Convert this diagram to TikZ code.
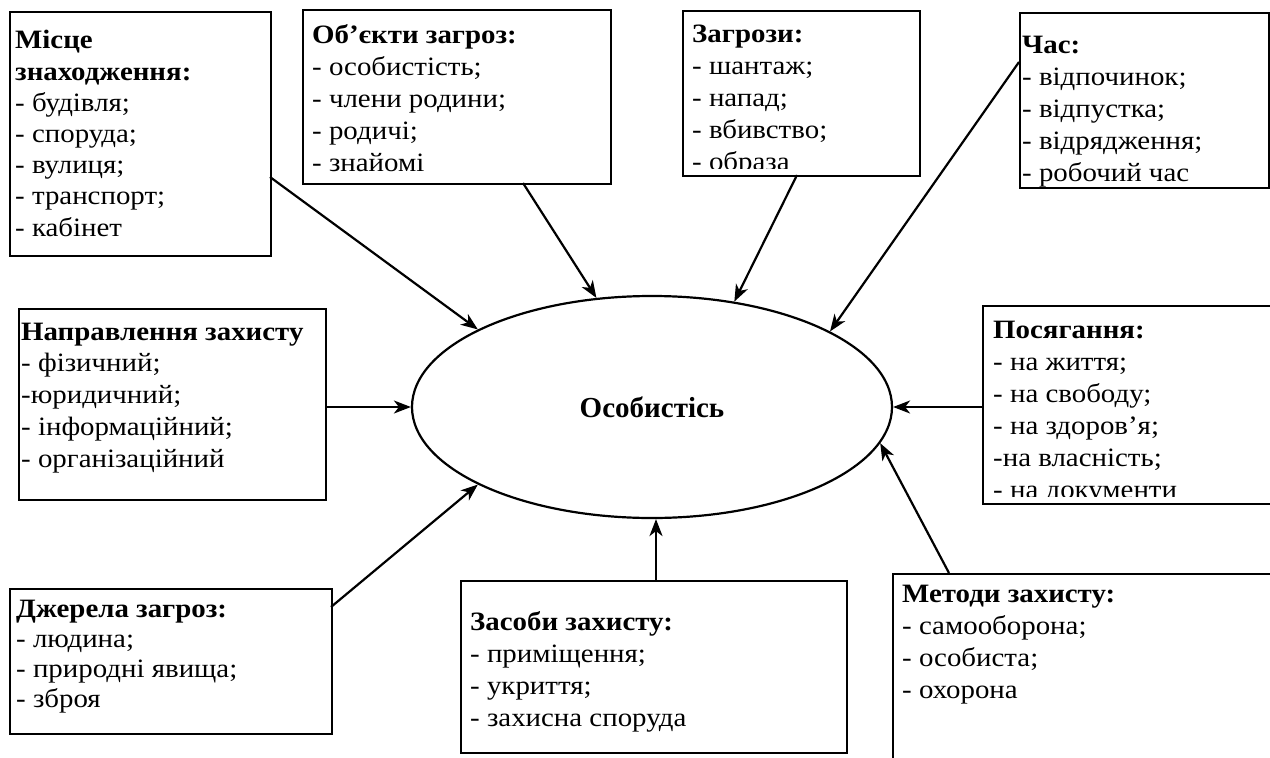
\documentclass[tikz,border=0pt]{standalone}
\usepackage{fontspec}
\setmainfont{Liberation Serif}
\newfontfamily\wideserif[FakeStretch=1.09]{Liberation Serif}
\usetikzlibrary{shapes.geometric,arrows.meta}
\begin{document}
\begin{tikzpicture}[x=1pt,y=-1pt,
  box/.style={draw, line width=2.4pt, inner sep=0, anchor=north west},
  txt/.style={anchor=base west, align=left, inner sep=0},
  arr/.style={line width=2.2pt, -{Stealth[length=17pt,width=13pt,inset=5pt]}}]
\useasboundingbox (0,0) rectangle (1270,758);
\clip (0,0) rectangle (1270,758);
% central ellipse
\node[draw, ellipse, line width=2.2pt, minimum width=480pt, minimum height=222pt, inner sep=0,
  font=\fontsize{29}{32}\selectfont\bfseries] (E) at (652,407) {Особистісь};
% boxes
\node[box, minimum width=261pt, minimum height=244pt] (b1) at (9,11) {};
\node[box, minimum width=308pt, minimum height=174pt] (b2) at (302,9) {};
\node[box, minimum width=237pt, minimum height=165pt] (b3) at (682,10) {};
\node[box, minimum width=249pt, minimum height=175pt] (b4) at (1019,12) {};
\node[box, minimum width=320pt, minimum height=198pt] (b5) at (982,305) {};
\node[box, minimum width=400pt, minimum height=220pt] (b6) at (892,573) {};
\node[box, minimum width=386pt, minimum height=172pt] (b7) at (460,580) {};
\node[box, minimum width=307pt, minimum height=191pt] (b8) at (18,308) {};
\node[box, minimum width=322pt, minimum height=145pt] (b9) at (9,588) {};
% texts (anchor = baseline of the last line)
\node[txt, font=\wideserif\fontsize{26.5}{31.2}\selectfont] (t1) at (15,236)
  {\textbf{Місце}\\\textbf{знаходження:}\\- будівля;\\- споруда;\\- вулиця;\\- транспорт;\\- кабінет};
\node[txt, font=\wideserif\fontsize{26.5}{32}\selectfont] (t2) at (312,171)
  {\textbf{Об’єкти загроз:}\\- особистість;\\- члени родини;\\- родичі;\\- знайомі};
\begin{scope}
  \clip (682,10) rectangle (919,168);
  \node[txt, font=\wideserif\fontsize{26.5}{32}\selectfont] (t3) at (692,170)
    {\textbf{Загрози:}\\- шантаж;\\- напад;\\- вбивство;\\- образа};
\end{scope}
\node[txt, font=\wideserif\fontsize{26.5}{32}\selectfont] (t4) at (1022,181)
  {\textbf{Час:}\\- відпочинок;\\- відпустка;\\- відрядження;\\- робочий час};
\begin{scope}
  \clip (982,305) rectangle (1270,496);
  \node[txt, font=\wideserif\fontsize{26.5}{32}\selectfont] (t5) at (993,498)
    {\textbf{Посягання:}\\- на життя;\\ - на свободу;\\- на здоров’я;\\-на власність;\\- на документи};
\end{scope}
\node[txt, font=\wideserif\fontsize{26.5}{32}\selectfont] (t6) at (902,698)
  {\textbf{Методи захисту:}\\- самооборона;\\- особиста;\\- охорона};
\node[txt, font=\wideserif\fontsize{26.5}{32}\selectfont] (t7) at (470,726)
  {\textbf{Засоби захисту:}\\- приміщення;\\- укриття;\\- захисна споруда};
\node[txt, font=\wideserif\fontsize{26.5}{31.7}\selectfont] (t8) at (21,467)
  {\textbf{Направлення захисту}\\- фізичний;\\-юридичний;\\- інформаційний;\\- організаційний};
\node[txt, font=\wideserif\fontsize{26.5}{30}\selectfont] (t9) at (16,707)
  {\textbf{Джерела загроз:}\\- людина;\\- природні явища;\\- зброя};
% connector start points on boxes
\coordinate (s1) at (270,177);
\coordinate (s2) at (523,183);
\coordinate (s3) at (797,175);
\coordinate (s4) at (1019,62);
\coordinate (s5) at (982,407);
\coordinate (s6) at (949,573);
\coordinate (s7) at (656,580);
\coordinate (s8) at (325,407);
\coordinate (s9) at (331,607);
% connectors
\draw[arr] (s1) -- (E.156);
\draw[arr] (s2) -- (E.117);
\draw[arr] (s3) -- (E.52);
\draw[arr] (s4) -- (E.23);
\draw[arr] (s5) -- (E.east);
\draw[arr] (s6) -- (E.-9);
\draw[arr] (s7) -- (s7 |- E.south);
\draw[arr] (s8) -- (E.west);
\draw[arr] (s9) -- (E.204);
\end{tikzpicture}
\end{document}
